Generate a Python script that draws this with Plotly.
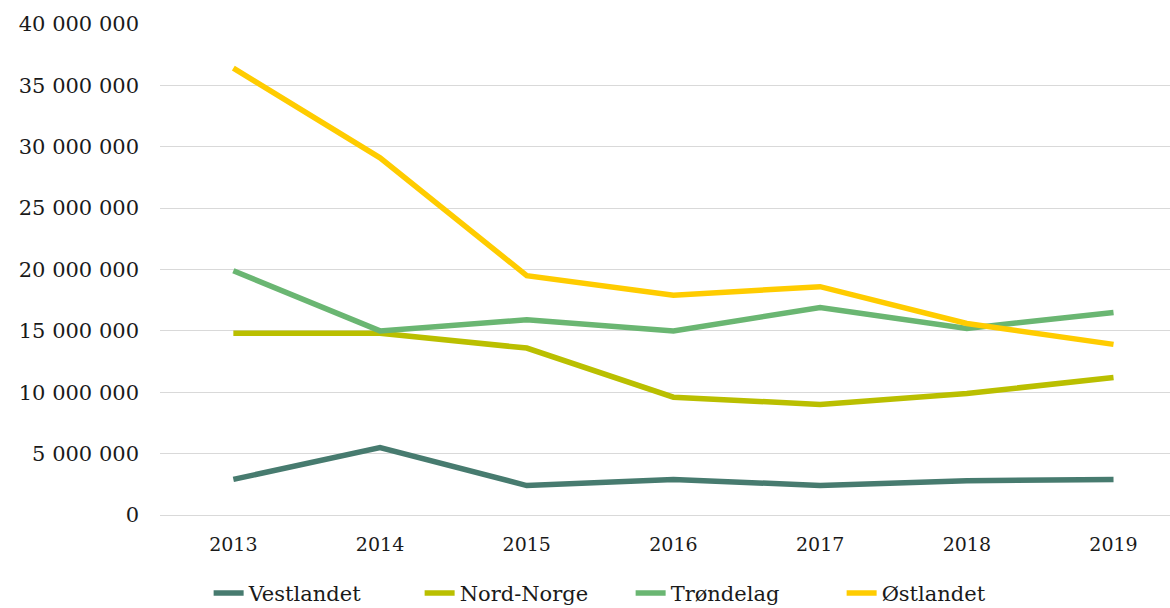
import plotly.graph_objects as go

years = ["2013", "2014", "2015", "2016", "2017", "2018", "2019"]
vestlandet = [2.9e6, 5.5e6, 2.4e6, 2.9e6, 2.4e6, 2.8e6, 2.9e6]
nord_norge = [14.8e6, 14.8e6, 13.6e6, 9.6e6, 9.0e6, 9.9e6, 11.2e6]
trondelag = [19.9e6, 15.0e6, 15.9e6, 15.0e6, 16.9e6, 15.2e6, 16.5e6]
ostlandet = [36.4e6, 29.1e6, 19.5e6, 17.9e6, 18.6e6, 15.6e6, 13.9e6]

series = [
    ("Vestlandet", vestlandet, "#477B6F"),
    ("Nord-Norge", nord_norge, "#BABF00"),
    ("Trøndelag", trondelag, "#6AB672"),
    ("Østlandet", ostlandet, "#FFCC00"),
]

fig = go.Figure()
for name, vals, color in series:
    fig.add_trace(go.Scatter(
        x=years, y=vals, name=name, mode="lines",
        line=dict(color=color, width=5.5),
    ))

font_family = "DejaVu Serif"
fig.update_layout(
    width=1170, height=608,
    margin=dict(l=160, r=0, t=24, b=93, autoexpand=False),
    plot_bgcolor="white", paper_bgcolor="white",
    separators=", ",
    font=dict(family=font_family, size=20, color="#1a1a1a"),
    showlegend=True,
    legend=dict(
        orientation="h", x=0.539, xanchor="center", xref="container",
        y=0.024, yanchor="middle", yref="container",
        font=dict(family=font_family, size=21, color="#1a1a1a"),
        tracegroupgap=0, entrywidth=166, entrywidthmode="pixels",
    ),
    xaxis=dict(
        type="category", range=[-0.5, 6.385],
        showgrid=False, showline=False, ticks="",
        tickfont=dict(size=19), ticklabelstandoff=16,
    ),
    yaxis=dict(
        range=[0, 40e6], dtick=5e6, tickformat=",d",
        showgrid=True, gridcolor="#d9d9d9", gridwidth=1,
        zeroline=True, zerolinecolor="#d9d9d9", zerolinewidth=1,
        showline=False, ticks="", tickfont=dict(size=21),
        ticklabelstandoff=20,
    ),
)

fig.write_html("out.html")
